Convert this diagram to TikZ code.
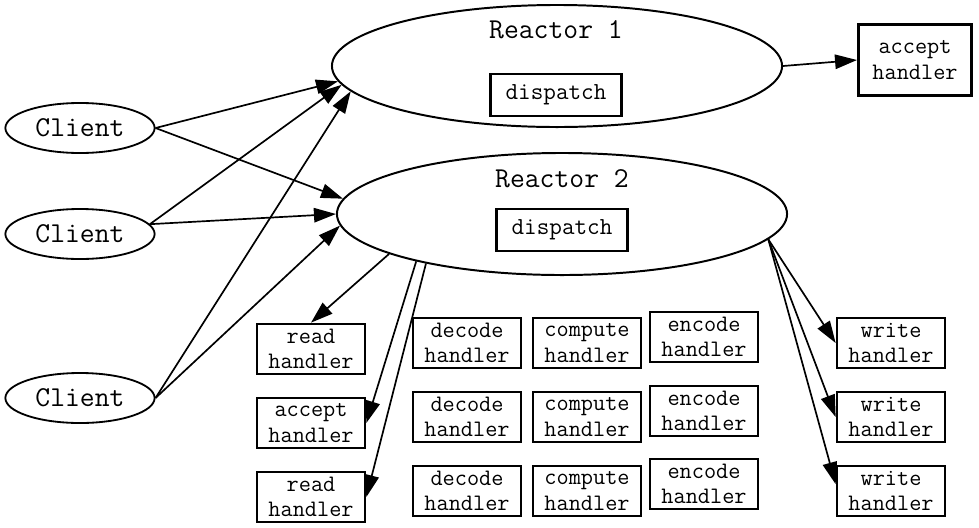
\documentclass[tikz,border=0pt]{standalone}
\usepackage{fontspec}
\usetikzlibrary{shapes.geometric, arrows.meta}

\begin{document}
\begin{tikzpicture}[x=0.025cm, y=-0.025cm,
	client/.style={draw, ellipse, line width=1.3pt, minimum width=3.73cm, minimum height=1.25cm, inner sep=0pt, font=\ttfamily\fontsize{20.5}{22}\selectfont},
	reactor/.style={draw, ellipse, line width=1.4pt, minimum width=11.25cm, minimum height=3.05cm, inner sep=0pt},
	title/.style={font=\ttfamily\fontsize{20.5}{22}\selectfont},
	handler/.style={draw, line width=1.9pt, minimum width=2.7cm, minimum height=1.25cm, inner sep=0pt, align=center, font=\ttfamily\fontsize{16.8}{18}\selectfont},
	link/.style={line width=1.2pt, -{Triangle[length=0.55cm, width=0.36cm]}}]
			
			\useasboundingbox (0,0) rectangle (979,527);
			
			\node[client] (c1) at (80,128) {Client};
			\node[client] (c2) at (80,234) {Client};
			\node[client] (c3) at (80,398) {Client};
			
			\node[reactor] (r1) at (557,66) {};
			\node[title] (t1) at (556,30) {Reactor 1};
			\node[handler, minimum width=3.28cm, minimum height=1.05cm, font=\ttfamily\fontsize{17.4}{19}\selectfont] (d1) at (556,95) {dispatch};
			
			\node[reactor] (r2) at (562,214) {};
			\node[title] (t2) at (562,179) {Reactor 2};
			\node[handler, minimum width=3.28cm, minimum height=1.05cm, font=\ttfamily\fontsize{17.4}{19}\selectfont] (d2) at (562,230) {dispatch};
			
			\node[handler, minimum width=2.83cm, minimum height=1.78cm] (acc1) at (915,60) {accept\\handler};
			
			\node[handler] (rd1) at (311,349) {read\\handler};
			\node[handler] (acc2) at (311,423) {accept\\handler};
			\node[handler] (rd2) at (311,497) {read\\handler};
			
			\node[handler] (dec1) at (467,343) {decode\\handler};
			\node[handler] (dec2) at (467,417) {decode\\handler};
			\node[handler] (dec3) at (467,491) {decode\\handler};
			
			\node[handler] (cmp1) at (587,343) {compute\\handler};
			\node[handler] (cmp2) at (587,417) {compute\\handler};
			\node[handler] (cmp3) at (587,491) {compute\\handler};
			
			\node[handler] (enc1) at (704,337) {encode\\handler};
			\node[handler] (enc2) at (704,411) {encode\\handler};
			\node[handler] (enc3) at (704,484) {encode\\handler};
			
			\node[handler] (w1) at (891,343) {write\\handler};
			\node[handler] (w2) at (891,417) {write\\handler};
			\node[handler] (w3) at (891,491) {write\\handler};
			
			% clients to reactors
			\draw[link] (c1.east) -- (r1.184);
			\draw[link] (c1.east) -- (r2.176);
			\draw[link] (c2.8) -- (r1.185.5);
			\draw[link] (c2.8) -- (r2.180);
			\draw[link] (c3.east) -- (r1.187);
			\draw[link] (c3.east) -- (r2.183);
			
			\draw[link] (r1.east) -- (acc1.west);
			
			% reactor 2 to handlers
			\draw[link] (r2.193) -- (rd1.north);
			\draw[link] (r2.198) -- (acc2.east);
			\draw[link] (r2.200) -- (rd2.east);
			\draw[link] (r2.353) -- (w1.west);
			\draw[link] (r2.353) -- (w2.west);
			\draw[link] (r2.353) -- (w3.173);
			
			\end{tikzpicture}
\end{document}
